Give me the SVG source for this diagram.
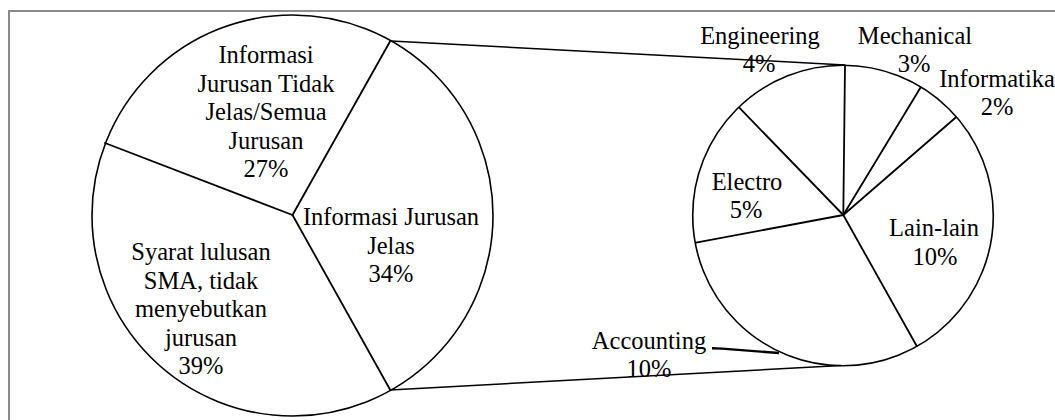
<svg xmlns="http://www.w3.org/2000/svg" width="1055" height="420" viewBox="0 0 1055 420">
  <style>
    .frame { fill: #ffffff; stroke: #8a8a8a; stroke-width: 2; }
    .pie { fill: #ffffff; stroke: #000000; stroke-width: 1.6; }
    .spoke { fill: none; stroke: #000000; stroke-width: 1.8; stroke-linecap: round; }
    .conn { fill: none; stroke: #000000; stroke-width: 1.5; }
    .leader { fill: none; stroke: #000000; stroke-width: 2.4; }
    text { font-family: "Liberation Serif", "Times New Roman", serif; font-size: 24.5px; fill: #000000; text-anchor: middle; }
  </style>
  <rect class="frame" x="9" y="11" width="1070" height="430"/>

  <g id="pie-main">
    <circle class="pie" cx="292.5" cy="215.5" r="200.5"/>
    <line class="spoke" x1="292.5" y1="215" x2="390" y2="41.5"/>
    <line class="spoke" x1="292.5" y1="215" x2="105" y2="143"/>
    <line class="spoke" x1="292.5" y1="215" x2="390" y2="389.5"/>
  </g>

  <g id="pie-detail">
    <circle class="pie" cx="843" cy="215.5" r="150.3"/>
    <line class="spoke" x1="843.3" y1="215" x2="845" y2="65.3"/>
    <line class="spoke" x1="843.3" y1="215" x2="920.7" y2="87.3"/>
    <line class="spoke" x1="843.3" y1="215" x2="956" y2="117.3"/>
    <line class="spoke" x1="843.3" y1="215" x2="916.7" y2="346"/>
    <line class="spoke" x1="843.3" y1="215" x2="696" y2="242.7"/>
    <line class="spoke" x1="843.3" y1="215" x2="739.3" y2="107.7"/>
  </g>

  <g id="connectors">
    <line class="conn" x1="391" y1="41" x2="845" y2="65"/>
    <line class="conn" x1="390" y1="390" x2="841" y2="365.5"/>
    <polyline class="leader" points="712,348.3 722,348.6 779,353"/>
  </g>

  <g id="label-tidak-jelas">
    <text x="266" y="63.3">Informasi</text>
    <text x="266" y="91.8">Jurusan Tidak</text>
    <text x="266" y="120.3">Jelas/Semua</text>
    <text x="266" y="148.8">Jurusan</text>
    <text x="266" y="177.3">27%</text>
  </g>
  <g id="label-syarat">
    <text x="201" y="260">Syarat lulusan</text>
    <text x="201" y="288.5">SMA, tidak</text>
    <text x="201" y="317">menyebutkan</text>
    <text x="201" y="345.5">jurusan</text>
    <text x="201" y="374">39%</text>
  </g>
  <g id="label-jelas">
    <text x="391" y="225">Informasi Jurusan</text>
    <text x="391" y="253.5">Jelas</text>
    <text x="391" y="282">34%</text>
  </g>

  <g id="label-engineering">
    <text x="760" y="44.3">Engineering</text>
    <text x="759" y="72">4%</text>
  </g>
  <g id="label-mechanical">
    <text x="915" y="44.3">Mechanical</text>
    <text x="914" y="72">3%</text>
  </g>
  <g id="label-informatika">
    <text x="997" y="87">Informatika</text>
    <text x="997" y="114.5">2%</text>
  </g>
  <g id="label-electro">
    <text x="747" y="189.5">Electro</text>
    <text x="746" y="217.5">5%</text>
  </g>
  <g id="label-lain-lain">
    <text x="934" y="236">Lain-lain</text>
    <text x="935" y="264.5">10%</text>
  </g>
  <g id="label-accounting">
    <text x="649" y="348.5">Accounting</text>
    <text x="649" y="376.5">10%</text>
  </g>
</svg>
